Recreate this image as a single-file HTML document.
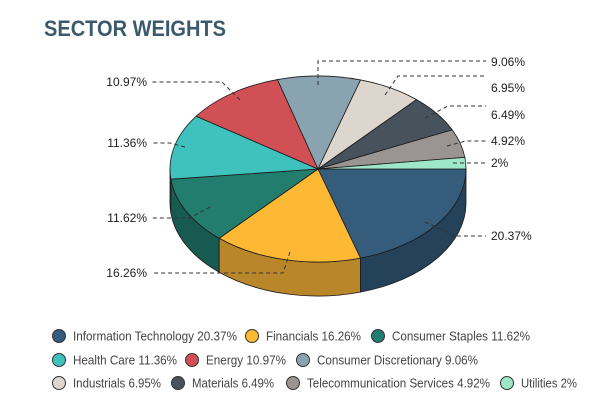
<!DOCTYPE html>
<html><head><meta charset="utf-8"><style>
body{margin:0;background:#fff;width:609px;height:409px;overflow:hidden;font-family:"Liberation Sans",sans-serif}
</style></head><body>
<svg id="s" width="609" height="409" xmlns="http://www.w3.org/2000/svg">
<text x="44" y="36" font-family="Liberation Sans,sans-serif" font-weight="bold" font-size="22" fill="#3b5a6b" textLength="182" lengthAdjust="spacingAndGlyphs">SECTOR WEIGHTS</text>
</svg>
<script>
var s=document.getElementById('s'),NS='http://www.w3.org/2000/svg';
function el(t,a,txt){var e=document.createElementNS(NS,t);for(var k in a)e.setAttribute(k,a[k]);if(txt)e.textContent=txt;s.appendChild(e);return e;}
var cx=318,cy=169,rx=148,ry=93,d=34;
var data=[[20.37,'#355c7a','#24435a'],[16.26,'#fdb933','#b9872a'],[11.62,'#237d6f','#175a50'],[11.36,'#3fc1bd','#2b8a87'],[10.97,'#d05056','#93383c'],[9.06,'#8aa3b0','#60737c'],[6.95,'#ddd6cf','#9c968f'],[6.49,'#47525c','#323a41'],[4.92,'#9a9592','#6c6866'],[2,'#9ee8c9','#6fa38d']];
function P(a,dy){a=a*Math.PI/180;return [cx+rx*Math.cos(a),cy+ry*Math.sin(a)+(dy||0)];}
var c=0,segs=[];
data.forEach(function(v){var a1=c,a2=c+v[0]*3.6;segs.push([a1,a2]);c=a2;});
for(var i=data.length-1;i>=0;i--){var a1=segs[i][0],a2=Math.min(segs[i][1],180);if(a1>=180)continue;
var p1=P(a1),p2=P(a2),p3=P(a2,d),p4=P(a1,d);
el('path',{d:'M'+p1+' A'+rx+' '+ry+' 0 0 1 '+p2+' L'+p3+' A'+rx+' '+ry+' 0 0 0 '+p4+' Z',fill:data[i][2],stroke:'#1a1a1a','stroke-width':0.8});}
data.forEach(function(v,i){var a1=segs[i][0],a2=segs[i][1],p1=P(a1),p2=P(a2),lg=(a2-a1)>180?1:0;
el('path',{d:'M'+cx+','+cy+' L'+p1+' A'+rx+' '+ry+' 0 '+lg+' 1 '+p2+' Z',fill:v[1],stroke:'#1a1a1a','stroke-width':0.8});});
var L=[
[[425,222],[455,236],[486,236],'20.37%',491,240,'start'],
[[290,252],[283,273],[152,273],'16.26%',147,277,'end'],
[[210,207],[190,218],[152,218],'11.62%',147,222,'end'],
[[185,147],[170,143],[152,143],'11.36%',147,147,'end'],
[[240,100],[222,82],[152,82],'10.97%',147,86,'end'],
[[318,85],[318,61],[486,61],'9.06%',491,66,'start'],
[[385,95],[398,76],[486,76],'6.95%',491,92,'start'],
[[425,118],[448,106],[486,106],'6.49%',491,119,'start'],
[[447,146],[466,141],[486,141],'4.92%',491,145,'start'],
[[453,163],[466,163],[486,163],'2%',491,167,'start']];
L.forEach(function(l){el('polyline',{points:l[0]+' '+l[1]+' '+l[2],fill:'none',stroke:'#333','stroke-width':1,'stroke-dasharray':'4,3'});
el('text',{x:l[4],y:l[5],'font-size':12,fill:'#222','text-anchor':l[6]},l[3]);});
var leg=[[59,336,0,'Information Technology 20.37%',164],[252,336,1,'Financials 16.26%',95],[378,336,2,'Consumer Staples 11.62%',138],
[59,360,3,'Health Care 11.36%',104],[192,360,4,'Energy 10.97%',80],[303,360,5,'Consumer Discretionary 9.06%',161],
[59,383,6,'Industrials 6.95%',88],[178,383,7,'Materials 6.49%',82],[293,383,8,'Telecommunication Services 4.92%',183],[507,383,9,'Utilities 2%',56]];
leg.forEach(function(g){el('circle',{cx:g[0],cy:g[1],r:6.5,fill:data[g[2]][1],stroke:'#333','stroke-width':1});
el('text',{x:g[0]+14,y:g[1]+4.5,'font-size':12.5,fill:'#444',textLength:g[4],lengthAdjust:'spacingAndGlyphs'},g[3]);});
</script>
</body></html>
